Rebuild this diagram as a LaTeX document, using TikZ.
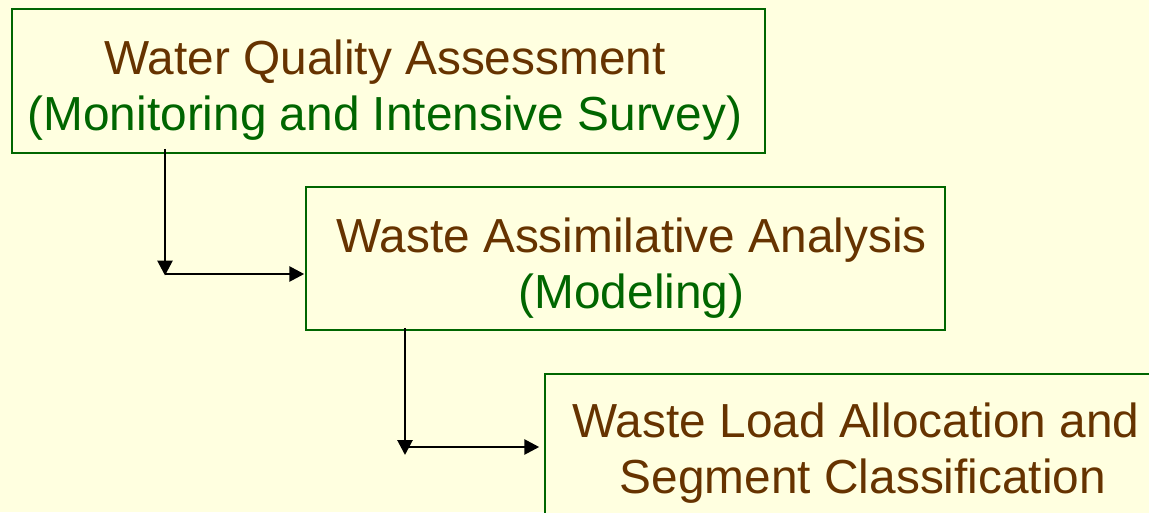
\documentclass[tikz,border=0pt]{standalone}
\usepackage{fontspec}
\setmainfont{Liberation Sans}
\usetikzlibrary{arrows.meta,positioning,calc}
\definecolor{paper}{HTML}{FFFFE0}
\definecolor{boxgreen}{HTML}{006600}
\definecolor{txtbrown}{HTML}{663300}
\tikzset{%
	stage/.style    = {draw=boxgreen, line width=1.5pt, fill=paper, rectangle, inner sep=0pt}, % Box
	title/.style    = {anchor=base, inner sep=0pt, font=\fontsize{47.8}{56}\selectfont, text=txtbrown}, % brown line
	sub/.style      = {title, text=boxgreen}, % green line
	arrow/.style    = {line width=2.8pt, -{Triangle[length=15pt,width=15pt]}},
	waypoint/.style = {coordinate},
}
\begin{document}
\begin{tikzpicture}[x=1pt,y=-1pt]
	\fill[paper] (0,0) rectangle (1149,512);
	\clip (0,0) rectangle (1149,512);
	\node[stage, minimum width=753pt, minimum height=144pt] (WQA) at (388.5,81) {};
	\node[stage, minimum width=639pt, minimum height=143pt] (WAA) at (625.5,258.5) {};
	\node[stage, minimum width=639pt, minimum height=143pt] (WLA) at (864.5,445.5) {};
	\node[title] (WQAa) at (385,74) {Water Quality Assessment};
	\node[sub] (WQAb) at (385,130.7) {(Monitoring and Intensive Survey)};
	\node[title] (WAAa) at (631.5,252) {Waste Assimilative Analysis};
	\node[sub] (WAAb) at (631.5,308.5) {(Modeling)};
	\node[title] (WLAa) at (856,437.5) {Waste Load Allocation and};
	\node[title] (WLAb) at (863,493.5) {Segment Classification};
	\node[waypoint] (wp1) at (165,274) {};
	\node[waypoint] (wp2) at (405,447) {};
	
	\draw[arrow] ([yshift=5pt]WQA.south -| wp1) -- ([yshift=-1.5pt]wp1);
	\draw[arrow, shorten >=1pt] (wp1) -- (WAA.west |- wp1);
	\draw[arrow] ([yshift=3pt]WAA.south -| wp2) -- ([yshift=-8pt]wp2);
	\draw[arrow, shorten >=5pt] (wp2) -- (WLA.west |- wp2);
\end{tikzpicture}
\end{document}
